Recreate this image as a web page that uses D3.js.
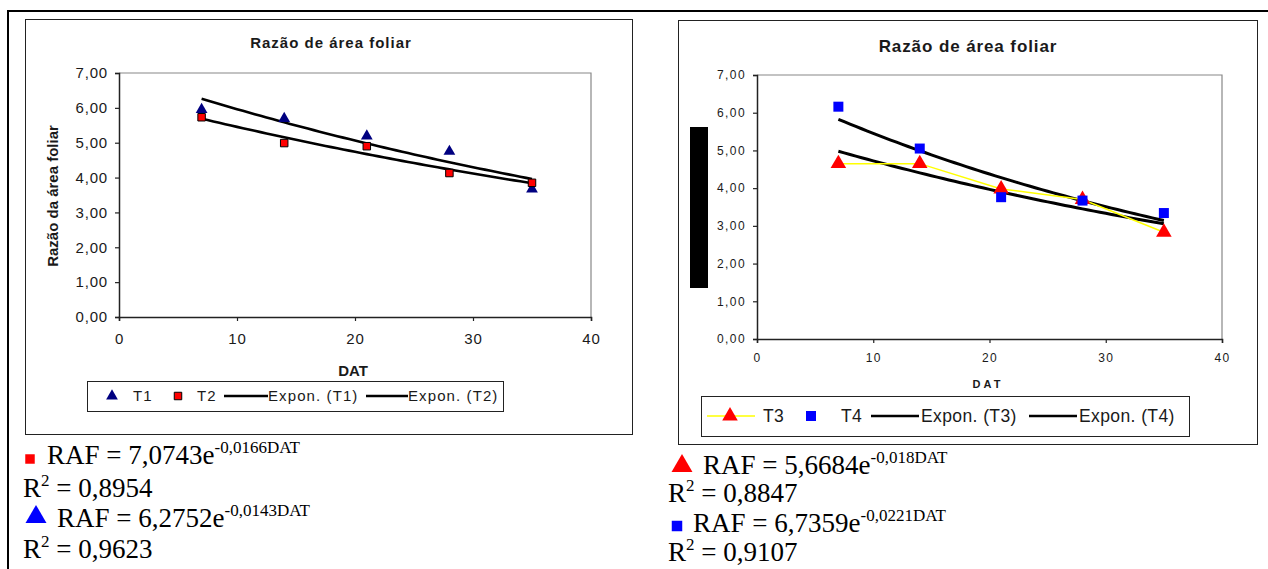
<!DOCTYPE html>
<html>
<head>
<meta charset="utf-8">
<script src="https://cdn.jsdelivr.net/npm/d3@7"></script>
<style>
  html, body { margin: 0; padding: 0; background: #fff; }
  svg { display: block; }
  text { font-family: Arial, "Liberation Sans", sans-serif; fill: #1a1a1a; }
  .eq text, text.eq { font-family: "Liberation Serif", "Times New Roman", serif; fill: #000; }
</style>
</head>
<body>
<svg id="stage" width="1268" height="569"></svg>
<script>
// ---- data ----
const dat = [7, 14, 21, 28, 35];
const t1 = [5.95, 5.69, 5.19, 4.75, 3.67];
const t2 = [5.73, 4.99, 4.9, 4.13, 3.85];
const t3 = [4.65, 4.65, 3.98, 3.7, 2.83];
const t4 = [6.16, 5.05, 3.76, 3.67, 3.34];
const xTicks = [0, 10, 20, 30, 40];
const yTicks = [0, 1, 2, 3, 4, 5, 6, 7];
const chartTitle = 'Razão de área foliar';
const yTitle = 'Razão da área foliar';
const xTitle = 'DAT';
const legendLeft = ['T1', 'T2', 'Expon. (T1)', 'Expon. (T2)'];
const legendRight = ['T3', 'T4', 'Expon. (T3)', 'Expon. (T4)'];
const eqLeft = [
  ['RAF = 7,0743e', '-0,0166DAT'],
  ['R', '2', ' = 0,8954'],
  ['RAF = 6,2752e', '-0,0143DAT'],
  ['R', '2', ' = 0,9623'],
];
const eqRight = [
  ['RAF = 5,6684e', '-0,018DAT'],
  ['R', '2', ' = 0,8847'],
  ['RAF = 6,7359e', '-0,0221DAT'],
  ['R', '2', ' = 0,9107'],
];

const svg = d3.select('#stage');
const fmt = (d) => d3.format('.2f')(d).replace('.', ',');

// exponential trendline, least squares on ln(y) like the spreadsheet does
const expFit = (xs, ys) => {
  const ly = ys.map(Math.log);
  const mx = d3.mean(xs);
  const my = d3.mean(ly);
  const b =
    d3.sum(xs, (x, i) => (x - mx) * (ly[i] - my)) /
    d3.sum(xs, (x) => (x - mx) * (x - mx));
  return { a: Math.exp(my - b * mx), b };
};

const triangle = d3.symbol().type(d3.symbolTriangle);
const square = d3.symbol().type(d3.symbolSquare);

// outer page frame
svg.append('line').attr('x1', 7).attr('x2', 1268).attr('y1', 11).attr('y2', 11)
  .attr('stroke', '#000').attr('stroke-width', 2);
svg.append('line').attr('x1', 8).attr('x2', 8).attr('y1', 10).attr('y2', 569)
  .attr('stroke', '#000').attr('stroke-width', 2);

function panel(cfg) {
  const g = svg.append('g');
  g.append('rect')
    .attr('x', cfg.box[0] + 0.5).attr('y', cfg.box[1] + 0.5)
    .attr('width', cfg.box[2]).attr('height', cfg.box[3])
    .attr('fill', '#fff').attr('stroke', '#222');

  const x = d3.scaleLinear([0, 40], [cfg.plot[0], cfg.plot[1]]);
  const y = d3.scaleLinear([0, 7], [cfg.plot[3], cfg.plot[2]]);

  // top/right frame of the plot area
  g.append('path')
    .attr('d', `M${x(0)},${y(7)}H${x(40)}V${y(0)}`)
    .attr('fill', 'none').attr('stroke', '#888').attr('stroke-width', 1.2);

  const ya = g.append('g').attr('transform', `translate(${x(0)},0)`)
    .call(d3.axisLeft(y).tickValues(yTicks).tickFormat(fmt).tickSize(4).tickPadding(cfg.tickPad));
  const xa = g.append('g').attr('transform', `translate(0,${y(0)})`)
    .call(d3.axisBottom(x).tickValues(xTicks).tickFormat(d3.format('d')).tickSize(4).tickPadding(cfg.tickPadX));
  [ya, xa].forEach((a) => {
    a.select('.domain').attr('stroke', '#222').attr('stroke-width', 1.5);
    a.selectAll('.tick line').attr('stroke', '#222').attr('stroke-width', 1.2);
    a.selectAll('.tick text')
      .style('font-family', 'Arial, "Liberation Sans", sans-serif')
      .attr('font-size', cfg.tickSize).attr('letter-spacing', cfg.tickSpacing)
      .attr('fill', '#1a1a1a');
  });

  g.append('text').attr('x', cfg.titlePos[0]).attr('y', cfg.titlePos[1])
    .attr('text-anchor', 'middle').attr('font-weight', 'bold')
    .attr('font-size', cfg.titleSize).attr('letter-spacing', cfg.titleSpacing)
    .text(chartTitle);

  g.append('text').attr('x', cfg.xTitlePos[0]).attr('y', cfg.xTitlePos[1])
    .attr('text-anchor', 'middle').attr('font-weight', 'bold')
    .attr('font-size', cfg.xTitleSize).attr('letter-spacing', cfg.xTitleSpacing)
    .text(xTitle);

  if (cfg.yTitlePos) {
    g.append('text')
      .attr('transform', `translate(${cfg.yTitlePos[0]},${cfg.yTitlePos[1]}) rotate(-90)`)
      .attr('text-anchor', 'middle').attr('font-weight', 'bold')
      .attr('font-size', 15).text(yTitle);
  }
  if (cfg.redact) {
    g.append('rect').attr('x', cfg.redact[0]).attr('y', cfg.redact[1])
      .attr('width', cfg.redact[2]).attr('height', cfg.redact[3]).attr('fill', '#000');
  }

  // trendlines
  const line = d3.line().x((d) => x(d[0])).y((d) => y(d[1]));
  cfg.series.forEach((s) => {
    const f = expFit(dat, s.values);
    const pts = d3.range(7, 35.01, 0.5).map((t) => [t, f.a * Math.exp(f.b * t)]);
    g.append('path').attr('d', line(pts)).attr('fill', 'none')
      .attr('stroke', '#000').attr('stroke-width', cfg.trendWidth);
  });

  // series
  cfg.series.forEach((s) => {
    if (s.line) {
      g.append('path').attr('d', line(dat.map((d, i) => [d, s.values[i]])))
        .attr('fill', 'none').attr('stroke', s.line).attr('stroke-width', 1.5);
    }
    g.append('g').selectAll('path').data(s.values).join('path')
      .attr('transform', (d, i) => `translate(${x(dat[i])},${y(d)})`)
      .attr('d', (s.shape === 'tri' ? triangle : square).size(s.size))
      .attr('fill', s.color)
      .attr('stroke', s.stroke || 'none').attr('stroke-width', 1);
  });

  // legend
  const L = cfg.legend;
  const lg = g.append('g');
  lg.append('rect').attr('x', L.box[0] + 0.5).attr('y', L.box[1] + 0.5)
    .attr('width', L.box[2]).attr('height', L.box[3]).attr('fill', '#fff').attr('stroke', '#222');
  const cy = L.box[1] + L.box[3] / 2;
  const label = (xx, txt) => lg.append('text').attr('x', xx).attr('y', cy).attr('dy', '0.35em')
    .attr('font-size', L.fontSize).attr('letter-spacing', L.spacing).attr('fill', '#000').text(txt);
  cfg.series.forEach((s, i) => {
    const it = L.items[i];
    if (s.line) {
      lg.append('line').attr('x1', it.line[0]).attr('x2', it.line[1]).attr('y1', cy).attr('y2', cy)
        .attr('stroke', s.line).attr('stroke-width', 1.5);
    }
    lg.append('path').attr('transform', `translate(${it.mark},${cy})`)
      .attr('d', (s.shape === 'tri' ? triangle : square).size(s.legendSize || s.size))
      .attr('fill', s.color).attr('stroke', s.stroke || 'none');
    label(it.text, L.labels[i]);
  });
  L.trend.forEach((it, i) => {
    lg.append('line').attr('x1', it.line[0]).attr('x2', it.line[1]).attr('y1', cy).attr('y2', cy)
      .attr('stroke', '#000').attr('stroke-width', 2.5);
    label(it.text, L.labels[i + 2]);
  });
}

panel({
  box: [25, 19, 607, 415],
  plot: [119, 591, 73, 317],
  tickSize: 15, tickSpacing: 0.8, tickPad: 7, tickPadX: 12,
  titlePos: [331, 48], titleSize: 15, titleSpacing: 1,
  xTitlePos: [353, 376], xTitleSize: 15, xTitleSpacing: 0,
  yTitlePos: [58, 196],
  trendWidth: 2.6,
  series: [
    { values: t1, shape: 'tri', color: '#000080', size: 60 },
    { values: t2, shape: 'sq', color: '#ff0000', stroke: '#000', size: 56 },
  ],
  legend: {
    box: [87, 381, 416, 30], fontSize: 15, spacing: 1.1, labels: legendLeft,
    items: [{ mark: 112, text: 133 }, { mark: 178, text: 197 }],
    trend: [{ line: [224, 268], text: 268 }, { line: [366, 408], text: 408 }],
  },
});

panel({
  box: [678, 20, 579, 424],
  plot: [757, 1222, 75, 339],
  tickSize: 12, tickSpacing: 1.4, tickPad: 7, tickPadX: 10,
  titlePos: [968, 52], titleSize: 17, titleSpacing: 0.9,
  xTitlePos: [988, 388], xTitleSize: 11, xTitleSpacing: 3,
  redact: [690, 127, 18, 161],
  trendWidth: 3,
  series: [
    { values: t3, shape: 'tri', color: '#ff0000', size: 105, line: '#ffff00' },
    { values: t4, shape: 'sq', color: '#0000ff', size: 100 },
  ],
  legend: {
    box: [701, 396, 488, 40], fontSize: 17.5, spacing: 0.4, labels: legendRight,
    items: [{ mark: 730, line: [707, 755], text: 763 }, { mark: 811, text: 841 }],
    trend: [{ line: [871, 919], text: 921 }, { line: [1029, 1077], text: 1079 }],
  },
});

// fitted equations written under the charts
function equations(lines, x0, baselines, marks) {
  const g = svg.append('g').attr('class', 'eq');
  lines.forEach((ln, i) => {
    const m = marks[i];
    let tx = x0;
    if (m) {
      g.append('path').attr('transform', `translate(${m.x},${m.y})`)
        .attr('d', (m.shape === 'tri' ? triangle : square).size(m.size)).attr('fill', m.color);
      tx = m.text;
    }
    const t = g.append('text').attr('x', tx).attr('y', baselines[i]).attr('font-size', 27);
    t.append('tspan').text(ln[0]);
    t.append('tspan').attr('dy', -11).attr('font-size', 17).text(ln[1]);
    if (ln.length === 3) t.append('tspan').attr('dy', 11).text(ln[2]);
  });
}

equations(eqLeft, 23, [464, 497, 527, 558], [
  { shape: 'sq', x: 30, y: 459, size: 90, color: '#ff0000', text: 47 },
  null,
  { shape: 'tri', x: 36, y: 517, size: 190, color: '#0000ff', text: 57 },
  null,
]);
equations(eqRight, 668, [474, 502, 532, 561], [
  { shape: 'tri', x: 682, y: 466, size: 190, color: '#ff0000', text: 703 },
  null,
  { shape: 'sq', x: 677, y: 526, size: 110, color: '#0000ff', text: 693 },
  null,
]);
</script>
</body>
</html>
